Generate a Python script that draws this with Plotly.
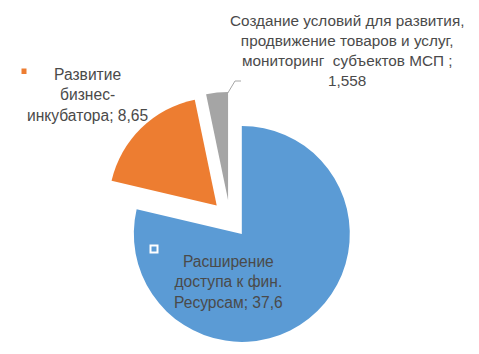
import plotly.graph_objects as go

labels = ["Расширение доступа к фин. Ресурсам",
          "Развитие бизнес-инкубатора",
          "Создание условий для развития, продвижение товаров и услуг, мониторинг  субъектов МСП "]
values = [37.6, 8.65, 1.558]
value_text = ["37,6", "8,65", "1,558"]
colors = ["#5B9BD5", "#ED7D31", "#A5A5A5"]

W, H = 479, 354
def px(x): return x / W
def py(y): return 1 - y / H

fig = go.Figure(go.Pie(
    labels=labels, values=values, sort=False, direction="clockwise", rotation=0,
    pull=[0.176] * 3, textinfo="none", hoverinfo="label+value",
    marker=dict(colors=colors, line=dict(width=0)),
    domain=dict(x=[px(95), px(349)], y=[py(338), py(84)]),
    showlegend=False,
))

ann = [
    ("Расширение<br>доступа к фин.<br>Ресурсам; " + value_text[0], 220.5, 274, 15.6),
    ("Развитие<br>бизнес-<br>инкубатора; " + value_text[1], 80, 87, 15.6),
    ("Создание условий для развития,<br>продвижение товаров и услуг,<br>мониторинг\u00a0 субъектов МСП ;<br>" + value_text[2], 338.5, 42, 15.3),
]
annotations = [dict(text=t, x=px(x), y=py(y), xref="paper", yref="paper",
                    xanchor="center", yanchor="middle", align="center", showarrow=False,
                    font=dict(family="Liberation Sans, Arial", size=s, color="#4a4a4a"))
               for t, x, y, s in ann]

shapes = [
    dict(type="path", xref="paper", yref="paper",
         path=f"M {px(233)} {py(73)} L {px(227)} {py(73)} L {px(215)} {py(93)}",
         line=dict(color="#A6A6A6", width=1)),
    dict(type="rect", xref="paper", yref="paper",
         x0=px(13.5), x1=px(18.5), y0=py(66), y1=py(60.5),
         fillcolor="#ED7D31", line=dict(width=0)),
    dict(type="rect", xref="paper", yref="paper",
         x0=px(142.5), x1=px(149.5), y0=py(244.5), y1=py(237.5),
         fillcolor="#5B9BD5", line=dict(color="white", width=2)),
]

fig.update_layout(width=W, height=H, margin=dict(l=0, r=0, t=0, b=0),
                  paper_bgcolor="white", plot_bgcolor="white",
                  annotations=annotations, shapes=shapes)
fig.write_html("out.html")
